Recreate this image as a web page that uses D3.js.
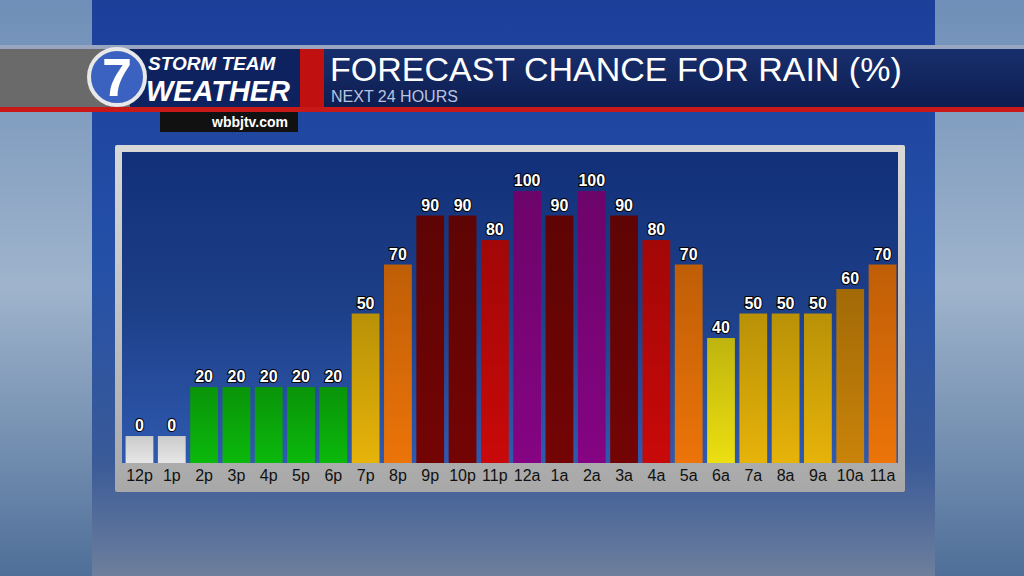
<!DOCTYPE html>
<html><head><meta charset="utf-8">
<script src="https://cdn.jsdelivr.net/npm/d3@7"></script>
<style>body{margin:0;background:#000}svg{display:block}text{font-family:"Liberation Sans",Arial,sans-serif}</style>
</head><body><div id="chart"></div>
<script>
const hours = ["12p","1p","2p","3p","4p","5p","6p","7p","8p","9p","10p","11p","12a","1a","2a","3a","4a","5a","6a","7a","8a","9a","10a","11a"];
const chances = [0,0,20,20,20,20,20,50,70,90,90,80,100,90,100,90,80,70,40,50,50,50,60,70];
const title = "FORECAST CHANCE FOR RAIN (%)";
const subtitle = "NEXT 24 HOURS";

const W = 1024, H = 576;
const svg = d3.select("#chart").append("svg").attr("width", W).attr("height", H);
const defs = svg.append("defs");

function grad(id, stops, vertical) {
  const g = defs.append("linearGradient").attr("id", id)
    .attr("x1", 0).attr("y1", 0).attr("x2", vertical ? 0 : 1).attr("y2", vertical ? 1 : 0);
  stops.forEach(s => g.append("stop").attr("offset", s[0]).attr("stop-color", s[1]));
}
grad("sky", [[0, "#6f8fb8"], [0.5, "#9fb4cc"], [1, "#4f6f99"]], true);
grad("panel", [[0, "#1c3f9a"], [0.45, "#2450a8"], [0.8, "#3a5a98"], [1, "#6d7f9c"]], true);
grad("plot", [[0, "#12307a"], [0.5, "#1d3f88"], [1, "#2f5ab0"]], true);
grad("hdr", [[0, "#182f6e"], [1, "#0d1d4f"]], true);
grad("frame", [[0, "#d8d8d8"], [1, "#a8a8a8"]], true);

// background
svg.append("rect").attr("width", W).attr("height", H).attr("fill", "url(#sky)");
svg.append("rect").attr("x", 92).attr("width", 843).attr("height", H).attr("fill", "url(#panel)");

// header bar
svg.append("rect").attr("x", 0).attr("y", 45).attr("width", W).attr("height", 4).attr("fill", "#9aa6c0");
svg.append("rect").attr("x", 0).attr("y", 49).attr("width", 300).attr("height", 58).attr("fill", "#6a6a6a");
svg.append("rect").attr("x", 130).attr("y", 49).attr("width", 170).attr("height", 58).attr("fill", "#0f2260");
svg.append("rect").attr("x", 300).attr("y", 49).attr("width", 24).attr("height", 58).attr("fill", "#c01010");
svg.append("rect").attr("x", 324).attr("y", 49).attr("width", 700).attr("height", 58).attr("fill", "url(#hdr)");
svg.append("rect").attr("x", 0).attr("y", 107).attr("width", W).attr("height", 5).attr("fill", "#c81818");
svg.append("rect").attr("x", 160).attr("y", 112).attr("width", 138).attr("height", 20).attr("fill", "#111");
svg.append("text").attr("x", 250).attr("y", 127).attr("text-anchor", "middle").attr("fill", "#fff")
  .attr("font-size", 14).attr("font-weight", "bold").text("wbbjtv.com");

// logo
svg.append("circle").attr("cx", 117).attr("cy", 77).attr("r", 28).attr("fill", "#3b62c0").attr("stroke", "#e8e8e8").attr("stroke-width", 4);
svg.append("text").attr("x", 117).attr("y", 96).attr("text-anchor", "middle").attr("fill", "#fff")
  .attr("font-size", 54).attr("font-weight", "bold").text("7");
svg.append("text").attr("x", 148).attr("y", 70).attr("fill", "#fff").attr("font-size", 19)
  .attr("font-weight", "bold").attr("font-style", "italic").text("STORM TEAM");
svg.append("text").attr("x", 146).attr("y", 101).attr("fill", "#fff").attr("font-size", 29)
  .attr("font-weight", "bold").attr("font-style", "italic").attr("textLength", 144).text("WEATHER");

svg.append("text").attr("x", 330).attr("y", 81).attr("fill", "#fff").attr("font-size", 34).text(title);
svg.append("text").attr("x", 331).attr("y", 102).attr("fill", "#b8c4e0").attr("font-size", 16).text(subtitle);

// chart frame
svg.append("rect").attr("x", 115).attr("y", 145).attr("width", 790).attr("height", 347).attr("rx", 2).attr("fill", "url(#frame)");
svg.append("rect").attr("x", 122).attr("y", 152).attr("width", 776).attr("height", 311).attr("fill", "url(#plot)");

const x = d3.scaleBand().domain(hours).range([123, 899]).paddingInner(0.14).paddingOuter(0.08);
const y = d3.scaleLinear().domain([-11, 100]).range([463, 191]);

const colorOf = v => ({0: "#e6e6e6", 20: "#0aa80a", 40: "#d8cc10", 50: "#d2a408", 60: "#b87808",
  70: "#d86a08", 80: "#b80808", 90: "#6a0404", 100: "#7a0478"})[v];

chances.forEach((v, i) => {
  const c = d3.color(colorOf(v));
  grad("b" + i, [[0, c.darker(0.35)], [1, v === 0 ? c : c.brighter(0.25)]], true);
});

svg.append("g").selectAll("rect").data(chances).join("rect")
  .attr("x", (d, i) => x(hours[i])).attr("width", x.bandwidth())
  .attr("y", d => y(d)).attr("height", d => y(-11) - y(d))
  .attr("fill", (d, i) => `url(#b${i})`);

svg.append("g").selectAll("text").data(chances).join("text")
  .attr("x", (d, i) => x(hours[i]) + x.bandwidth() / 2).attr("y", d => y(d) - 5)
  .attr("text-anchor", "middle").attr("fill", "#fff").attr("font-size", 16).attr("font-weight", "bold")
  .attr("stroke", "#000").attr("stroke-width", 2).attr("paint-order", "stroke").text(d => d);

const axis = svg.append("g").attr("transform", "translate(0,463)")
  .call(d3.axisBottom(x).tickSize(0).tickPadding(7));
axis.select(".domain").remove();
axis.selectAll("text").attr("fill", "#111").attr("font-size", 16)
  .attr("font-family", "'Liberation Sans',Arial,sans-serif");
</script></body></html>
